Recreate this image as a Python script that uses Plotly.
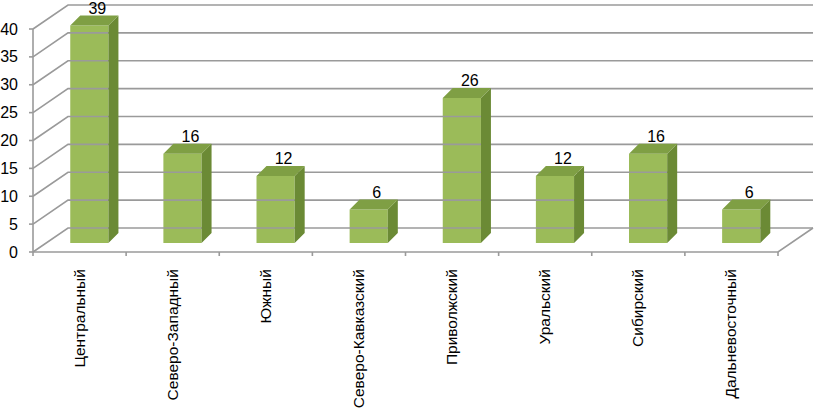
import plotly.graph_objects as go

# ── 1. DATA ───────────────────────────────────────────────────────
REGIONS = ["Центральный", "Северо-Западный", "Южный", "Северо-Кавказский",
           "Приволжский", "Уральский", "Сибирский", "Дальневосточный"]
COUNTS  = [39, 16, 12, 6, 26, 12, 16, 6]
Y_TICKS = [0, 5, 10, 15, 20, 25, 30, 35, 40]

# ── 2. 3D LOOK (pseudo-perspective, in data units) ────────────────
N       = len(REGIONS)
PX_X    = 93.125          # px per category
PX_Y    = 5.575           # px per value unit
WALL_DX = 35 / PX_X       # floor depth
WALL_DY = 24 / PX_Y
BAR_OFF = 0.40            # front face start within a category
BAR_W   = 0.41
BAR_B   = 9 / PX_Y        # bars sit a little behind the front edge
BAR_DX  = 10 / PX_X       # bar depth
BAR_DY  = 10 / PX_Y

GRID  = "#9a9a9a"
FRONT = "#9bbb59"
SIDE  = "#6b8a35"
TOP   = "#7f9f44"
FONT  = dict(family="Liberation Sans, Arial", size=16, color="#000000")
CAT_FONT = dict(family="Liberation Sans, Arial", size=15.5, color="#000000")

fig = go.Figure()

# back wall / side wall gridlines
gx, gy = [], []
for v in Y_TICKS:
    gx += [0, WALL_DX, N + WALL_DX, None]
    gy += [v, v + WALL_DY, v + WALL_DY, None]
# floor front + right edge, front vertical axis
gx += [0, N, N + WALL_DX, None, 0, 0, None]
gy += [0, 0, WALL_DY, None, 0, Y_TICKS[-1], None]
# small tick marks
for v in Y_TICKS:
    gx += [-4 / PX_X, 0, None]
    gy += [v, v, None]
for k in range(N + 1):
    gx += [k, k, None]
    gy += [0, -5 / PX_Y, None]
fig.add_trace(go.Scatter(x=gx, y=gy, mode="lines", hoverinfo="skip",
                         line=dict(color=GRID, width=1.6), showlegend=False))

# bar front faces
centers = [i + BAR_OFF + BAR_W / 2 for i in range(N)]
fig.add_trace(go.Bar(x=centers, y=COUNTS, base=BAR_B, width=BAR_W,
                     marker=dict(color=FRONT, line_width=0), showlegend=False))

# bar side + top faces
sx, sy, tx, ty = [], [], [], []
for i, v in enumerate(COUNTS):
    xl = i + BAR_OFF
    xr = xl + BAR_W
    top = BAR_B + v
    sx += [xr, xr + BAR_DX, xr + BAR_DX, xr, xr, None]
    sy += [BAR_B, BAR_B + BAR_DY, top + BAR_DY, top, BAR_B, None]
    tx += [xl, xl + BAR_DX, xr + BAR_DX, xr, xl, None]
    ty += [top, top + BAR_DY, top + BAR_DY, top, top, None]
fig.add_trace(go.Scatter(x=sx, y=sy, mode="lines", fill="toself", fillcolor=SIDE,
                         line=dict(width=0, color=SIDE), hoverinfo="skip", showlegend=False))
fig.add_trace(go.Scatter(x=tx, y=ty, mode="lines", fill="toself", fillcolor=TOP,
                         line=dict(width=0, color=TOP), hoverinfo="skip", showlegend=False))

# value labels (just above the back edge of the top face)
fig.add_trace(go.Scatter(
    x=[c + BAR_DX * 0.8 for c in centers],
    y=[BAR_B + v + BAR_DY - 2 / PX_Y for v in COUNTS],
    mode="text", text=[str(v) for v in COUNTS], textposition="top center",
    textfont=FONT, cliponaxis=False, hoverinfo="skip", showlegend=False,
))

# ── 3. LAYOUT ─────────────────────────────────────────────────────
W, H = 818, 411
ML, MR, MT, MB = 27, 2, 0, 155
x0 = (ML - 33) / PX_X
y0 = -(H - MB - 252) / PX_Y

fig.update_layout(
    width=W, height=H,
    margin=dict(l=ML, r=MR, t=MT, b=MB, autoexpand=False),
    plot_bgcolor="#ffffff", paper_bgcolor="#ffffff",
    barmode="overlay", font=FONT,
    xaxis=dict(range=[x0, x0 + (W - ML - MR) / PX_X], automargin=False,
               tickvals=[i + 0.5 for i in range(N)], ticktext=REGIONS,
               tickangle=-90, ticks="", showgrid=False, zeroline=False,
               showline=False, ticklabelstandoff=9, tickfont=CAT_FONT),
    yaxis=dict(range=[y0, y0 + (H - MT - MB) / PX_Y], automargin=False,
               tickvals=Y_TICKS, ticks="", showgrid=False, zeroline=False,
               showline=False, ticklabelstandoff=8, tickfont=FONT),
)

# page body has an 8px default margin; drop it so the chart sits at 0,0
fig.write_html("out.html", config={"displayModeBar": False},
               post_script="document.body.style.margin = '0';")
